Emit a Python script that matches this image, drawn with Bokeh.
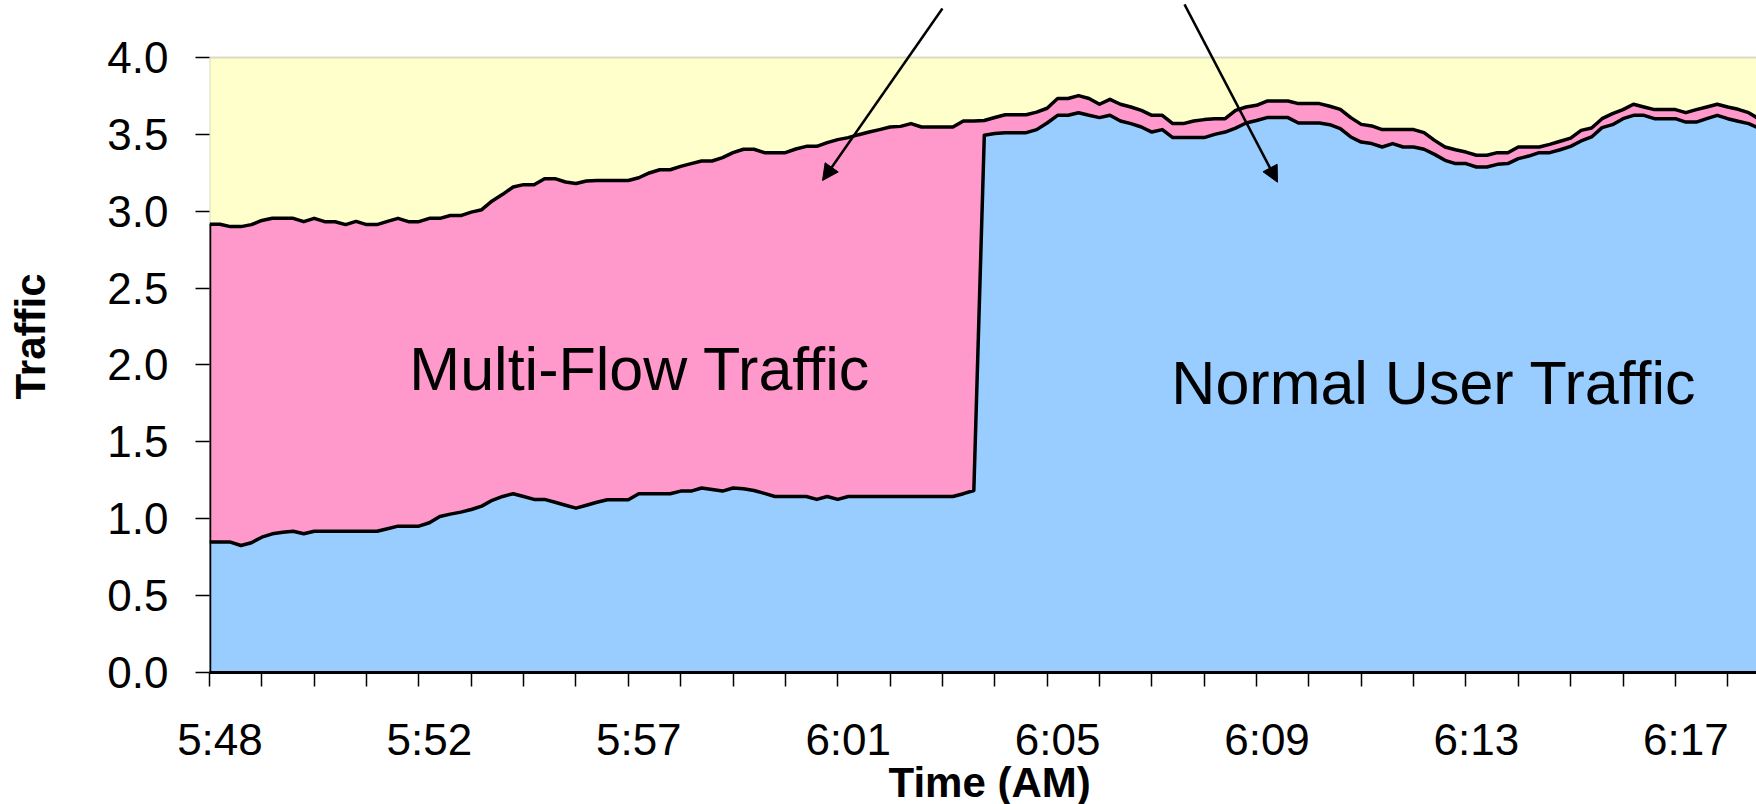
from bokeh.plotting import figure
from bokeh.models import (Range1d, FixedTicker, Label, Arrow, NormalHead,
                          BoxAnnotation, Title, NumeralTickFormatter)
from bokeh.embed import file_html
from bokeh.resources import INLINE

# Sample index (one sample per category on the time axis)
samples = list(range(149))

# Normal user traffic (bottom layer)
normal = [
    0.848, 0.848, 0.848, 0.826, 0.844, 0.880, 0.902, 0.912, 0.919, 0.902,
    0.919, 0.919, 0.919, 0.919, 0.919, 0.919, 0.919, 0.935, 0.952, 0.952,
    0.952, 0.974, 1.015, 1.030, 1.043, 1.060, 1.082, 1.120, 1.145, 1.163,
    1.145, 1.126, 1.126, 1.107, 1.088, 1.069, 1.088, 1.107, 1.124, 1.124,
    1.124, 1.163, 1.163, 1.163, 1.163, 1.180, 1.180, 1.200, 1.190, 1.180,
    1.200, 1.195, 1.184, 1.165, 1.145, 1.145, 1.145, 1.145, 1.126, 1.145,
    1.126, 1.145, 1.145, 1.145, 1.145, 1.145, 1.145, 1.145, 1.145, 1.145,
    1.145, 1.145, 1.163, 1.184, 3.494, 3.505, 3.511, 3.511, 3.511, 3.531,
    3.574, 3.624, 3.624, 3.641, 3.624, 3.609, 3.624, 3.587, 3.570, 3.548,
    3.515, 3.531, 3.479, 3.479, 3.479, 3.479, 3.500, 3.515, 3.541, 3.574,
    3.590, 3.609, 3.609, 3.609, 3.574, 3.574, 3.574, 3.563, 3.537, 3.483,
    3.450, 3.440, 3.418, 3.440, 3.418, 3.418, 3.403, 3.370, 3.331, 3.310,
    3.310, 3.288, 3.288, 3.305, 3.310, 3.342, 3.359, 3.381, 3.381, 3.400,
    3.422, 3.457, 3.483, 3.544, 3.563, 3.602, 3.624, 3.624, 3.602, 3.602,
    3.602, 3.580, 3.580, 3.602, 3.624, 3.602, 3.585, 3.570, 3.540,
]

# Normal + multi-flow traffic (top of the stack)
total = [
    2.915, 2.915, 2.900, 2.900, 2.913, 2.940, 2.954, 2.954, 2.954, 2.932,
    2.954, 2.932, 2.932, 2.913, 2.934, 2.913, 2.913, 2.934, 2.954, 2.932,
    2.932, 2.954, 2.954, 2.972, 2.972, 2.994, 3.010, 3.067, 3.110, 3.158,
    3.173, 3.173, 3.212, 3.212, 3.190, 3.180, 3.197, 3.200, 3.200, 3.200,
    3.200, 3.218, 3.249, 3.270, 3.270, 3.292, 3.310, 3.327, 3.327, 3.349,
    3.381, 3.403, 3.403, 3.381, 3.381, 3.381, 3.405, 3.422, 3.422, 3.446,
    3.466, 3.479, 3.498, 3.515, 3.531, 3.548, 3.552, 3.570, 3.548, 3.548,
    3.548, 3.548, 3.587, 3.587, 3.590, 3.610, 3.628, 3.628, 3.628, 3.645,
    3.670, 3.733, 3.733, 3.752, 3.733, 3.696, 3.728, 3.696, 3.678, 3.656,
    3.624, 3.624, 3.570, 3.570, 3.587, 3.596, 3.602, 3.602, 3.656, 3.678,
    3.689, 3.717, 3.717, 3.717, 3.700, 3.700, 3.700, 3.683, 3.663, 3.609,
    3.565, 3.555, 3.531, 3.531, 3.531, 3.531, 3.511, 3.461, 3.418, 3.400,
    3.385, 3.364, 3.364, 3.381, 3.381, 3.418, 3.418, 3.418, 3.435, 3.455,
    3.476, 3.526, 3.541, 3.602, 3.635, 3.661, 3.696, 3.678, 3.661, 3.661,
    3.661, 3.641, 3.661, 3.678, 3.696, 3.678, 3.663, 3.641, 3.600,
]

# Time labels, one every 20 samples
time_label_pos = [1, 21, 41, 61, 81, 101, 121, 141]
time_labels = ["5:48", "5:52", "5:57", "6:01", "6:05", "6:09", "6:13", "6:17"]

y_ticks = [0.0, 0.5, 1.0, 1.5, 2.0, 2.5, 3.0, 3.5, 4.0]
y_max = 4.0

BLUE = "#99CCFF"
PINK = "#FF99CC"
YELLOW = "#FFFFCC"
GREY = "#808080"
FONT = "Liberation Sans"

# The frame runs to the top of the page so the pointer arrows can start
# above the plot area; the plot area itself is the box from 0 to y_max.
p = figure(width=1756, height=804, output_backend="svg", toolbar_location=None,
           x_range=Range1d(0, 147.75), y_range=Range1d(0, 4.3707),
           min_border_left=209, min_border_right=0,
           min_border_top=0, min_border_bottom=132)
p.background_fill_color = "white"
p.border_fill_color = "white"
p.outline_line_color = None
p.grid.visible = False

p.add_layout(BoxAnnotation(left=0, right=200, bottom=0, top=y_max,
                           fill_color=YELLOW, fill_alpha=1.0,
                           line_color=GREY, line_width=2, level="underlay"))

# Stacked areas
p.varea(x=samples, y1=0, y2=normal, fill_color=BLUE)
p.varea(x=samples, y1=normal, y2=total, fill_color=PINK)

# Series borders
p.segment(x0=[samples[0]], y0=[0], x1=[samples[0]], y1=[total[0]],
          line_color="black", line_width=3.5)
p.line(samples, normal, line_color="black", line_width=3.5, line_join="round")
p.line(samples, total, line_color="black", line_width=3.5, line_join="round")

# X axis
xa = p.xaxis[0]
xa.ticker = FixedTicker(ticks=time_label_pos, minor_ticks=list(range(0, 150, 5)))
xa.major_label_overrides = {k: v for k, v in zip(time_label_pos, time_labels)}
xa.major_tick_out = 0
xa.major_tick_in = 0
xa.minor_tick_out = 14
xa.minor_tick_in = 0
xa.minor_tick_line_color = "black"
xa.minor_tick_line_width = 1.5
xa.axis_line_color = "black"
xa.axis_line_width = 3
xa.major_label_text_font = FONT
xa.major_label_text_font_size = "44px"
xa.major_label_text_color = "black"
xa.major_label_standoff = 28

# Y axis
ya = p.yaxis[0]
ya.ticker = FixedTicker(ticks=y_ticks)
ya.formatter = NumeralTickFormatter(format="0.0")
ya.major_tick_out = 14
ya.major_tick_in = 0
ya.major_tick_line_color = "black"
ya.major_tick_line_width = 1.5
ya.minor_tick_line_color = None
ya.axis_line_color = None
ya.major_label_text_font = FONT
ya.major_label_text_font_size = "44px"
ya.major_label_text_color = "black"
ya.major_label_standoff = 27
ya.axis_label = "Traffic"
ya.axis_label_text_font = FONT
ya.axis_label_text_font_style = "bold"
ya.axis_label_text_font_size = "42px"
ya.axis_label_text_color = "black"
ya.axis_label_standoff = 50

# X axis title, placed a little right of the frame centre
p.add_layout(Title(text="Time (AM)", align="left", offset=679, standoff=-16,
                   vertical_align="top",
                   text_font=FONT, text_font_style="bold",
                   text_font_size="42px", text_color="black"), "below")

# Area captions
p.add_layout(Label(x=41.1, y=1.971, text="Multi-Flow Traffic",
                   text_font=FONT, text_font_size="61px",
                   text_align="center", text_baseline="alphabetic",
                   text_color="black"))
p.add_layout(Label(x=116.95, y=1.886, text="Normal User Traffic",
                   text_font=FONT, text_font_size="61px",
                   text_align="center", text_baseline="alphabetic",
                   text_color="black"))

# Pointer arrows
for xs, ys, xe, ye in [(70.0, 4.319, 58.55, 3.20), (93.12, 4.345, 102.0, 3.189)]:
    p.add_layout(Arrow(end=NormalHead(size=16, fill_color="black",
                                      line_color="black", line_width=1),
                       x_start=xs, y_start=ys, x_end=xe, y_end=ye,
                       line_color="black", line_width=2.5))

open("out.html", "w").write(file_html(p, INLINE))
